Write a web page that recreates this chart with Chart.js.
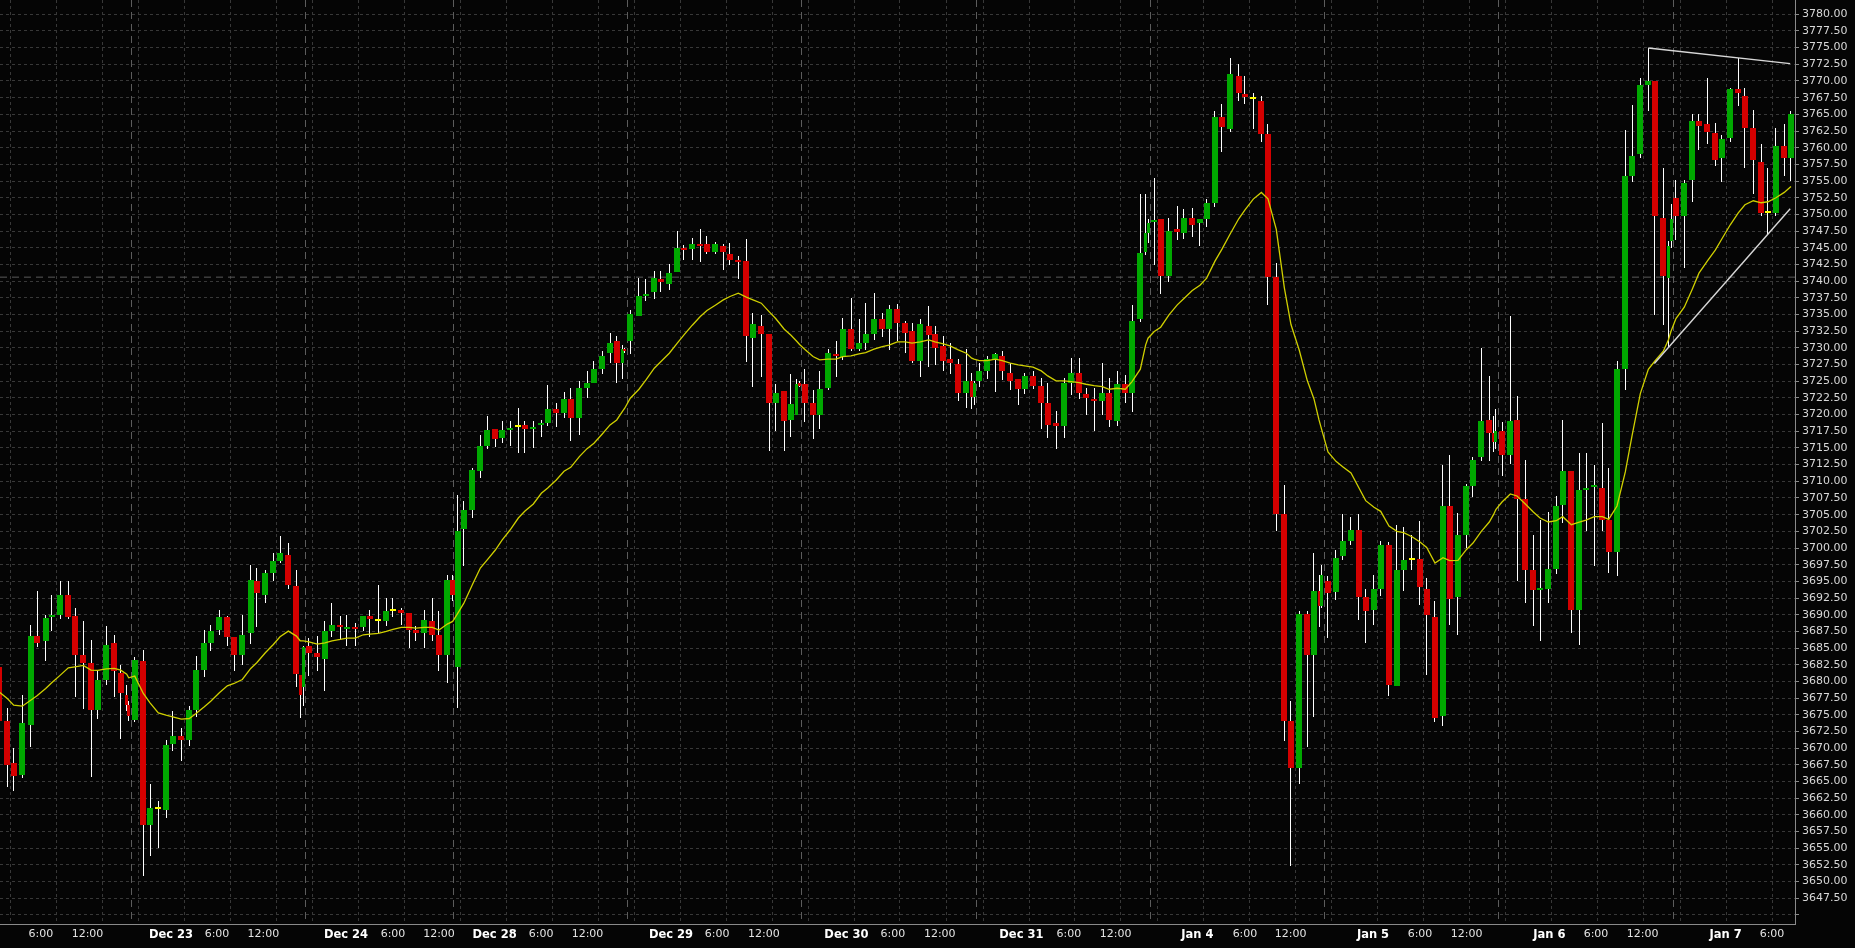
<!DOCTYPE html>
<html><head><meta charset="utf-8">
<script src="https://cdn.jsdelivr.net/npm/chart.js@4.4.1/dist/chart.umd.min.js"></script>
<style>
html,body{margin:0;padding:0;background:#050505;overflow:hidden;}
#wrap{width:1855px;height:948px;position:relative;background:#050505;}
</style></head>
<body><div id="wrap"><canvas id="c"></canvas></div>
<script>
// ---- hourly bars (time in session-hour units) ----
const hours = [
-0.10,1.00,1.84,2.97,4.07,4.90,6.04,6.83,7.96,9.01,
9.89,10.98,11.99,12.87,14.00,15.05,15.89,16.68,16.94,17.73,
18.86,19.74,20.83,21.84,22.72,23.85,24.90,25.78,26.87,27.71,
28.84,29.89,30.77,31.86,32.96,33.75,34.88,35.93,36.81,37.90,
38.96,39.45,39.87,40.61,41.70,42.71,43.63,44.72,45.60,46.69,
47.74,48.62,49.71,50.76,51.64,52.73,53.78,54.66,55.75,56.80,
57.68,58.77,59.48,60.14,60.93,62.06,63.11,63.99,65.08,65.96,
67.01,68.10,68.94,70.07,71.12,71.96,73.08,74.10,74.98,76.11,
77.12,78.03,79.12,80.14,81.02,81.75,82.07,82.80,83.94,84.86,
85.95,86.83,87.92,88.97,89.85,90.94,91.99,92.87,93.96,95.01,
95.89,96.98,98.03,98.91,100.00,101.05,101.89,103.02,103.90,104.65,
105.03,105.70,106.79,107.67,108.76,109.81,110.69,111.78,112.83,113.71,
114.80,115.89,116.77,117.86,118.91,119.79,120.88,121.98,122.81,123.90,
124.78,125.87,126.92,127.63,127.93,128.63,129.68,130.73,131.64,132.69,
133.74,134.59,135.68,136.77,137.61,138.70,139.79,140.67,141.72,142.64,
143.69,144.78,145.66,146.75,147.80,148.68,149.77,150.47,150.78,151.60,
152.44,153.53,154.62,155.50,156.59,157.60,158.48,159.57,160.49,161.58,
162.69,163.51,164.60,165.66,166.53,167.62,168.68,169.55,170.64,171.69,
172.57,173.23,173.62,174.41,175.46,176.34,177.43,178.48,179.36,180.45,
181.33,182.42,183.47,184.35,185.44,186.49,187.37,188.46,189.51,190.39,
191.48,192.57,193.45,194.54,195.59,196.14,196.47,197.26,198.35,199.23,
200.32,201.37,202.25,203.34,204.39,205.23,206.36,207.41,208.29,209.38,
210.43,211.27,212.36,213.45,214.33,215.42,216.47,217.31,218.44,219.14,
219.45,220.10,221.19,222.24,223.12,224.21,225.26,226.14,227.23,228.28,
229.16,230.25,231.30,232.18,233.23,234.32,235.20];

const opens = [
3682.1,3674.1,3667.8,3666.0,3673.5,3686.8,3686.1,3689.6,3690.0,3693.0,
3689.8,3683.9,3682.8,3675.7,3680.2,3685.8,3681.2,3678.0,3676.4,3674.2,
3683.1,3658.5,3660.9,3660.8,3670.6,3671.8,3671.3,3675.7,3681.7,3685.8,
3687.7,3689.6,3686.6,3684.0,3687.3,3695.1,3693.0,3696.3,3698.1,3699.0,
3694.3,3681.0,3679.1,3685.3,3684.2,3683.3,3687.6,3688.5,3687.8,3688.1,
3688.1,3689.8,3689.1,3689.1,3690.6,3690.7,3690.2,3687.7,3687.3,3689.1,
3687.0,3684.0,3695.2,3682.1,3702.8,3705.7,3711.6,3715.3,3717.9,3716.5,
3717.7,3718.2,3718.4,3717.8,3718.4,3718.8,3720.8,3720.3,3722.3,3719.5,
3724.0,3724.8,3726.85,3729.2,3731.0,3727.8,3729.8,3731.0,3734.8,3737.8,
3738.3,3740.3,3739.6,3741.3,3744.9,3744.8,3745.6,3745.6,3744.3,3745.3,
3744.1,3743.0,3743.0,3731.5,3733.3,3732.1,3721.7,3723.5,3719.2,3720.0,
3724.7,3724.6,3721.8,3719.9,3724.05,3729.1,3728.7,3732.8,3729.8,3730.8,
3732.1,3734.3,3732.8,3735.8,3733.7,3732.55,3728.1,3733.3,3732.1,3730.3,
3728.3,3727.6,3723.3,3725.05,3722.6,3725.05,3726.55,3728.3,3728.8,3726.3,
3725.35,3723.85,3725.85,3724.35,3721.8,3718.8,3718.35,3724.7,3726.3,3723.1,
3722.35,3722.1,3723.2,3719.1,3724.6,3723.3,3734.35,3744.3,3747.2,3748.8,
3749.3,3740.8,3747.8,3747.2,3749.5,3748.7,3749.35,3751.7,3764.65,3762.8,
3770.8,3768.0,3767.35,3767.0,3762.0,3740.6,3705.05,3674.1,3667.0,3690.05,
3684.0,3693.6,3691.3,3695.1,3693.4,3698.8,3701.1,3702.75,3692.6,3690.75,
3693.8,3700.4,3679.35,3696.75,3698.15,3698.3,3693.8,3689.6,3674.9,3706.25,
3692.6,3701.9,3709.25,3713.6,3719.2,3717.2,3715.85,3717.55,3714.0,3719.25,
3707.3,3696.7,3693.65,3693.8,3696.8,3706.5,3711.55,3690.65,3708.7,3709.1,
3709.0,3704.2,3699.4,3726.9,3755.8,3759.1,3769.35,3770.0,3749.5,3740.5,
3746.0,3752.5,3749.8,3755.1,3764.0,3763.5,3762.2,3758.4,3761.4,3768.8,
3767.8,3762.9,3757.8,3750.15,3750.25,3760.2,3758.5];

const highs = [
3683.0,3676.0,3670.0,3678.0,3688.5,3693.6,3690.0,3693.0,3695.1,3695.1,
3691.0,3689.0,3686.2,3681.7,3688.3,3687.0,3682.5,3679.4,3677.0,3683.6,
3684.7,3664.7,3662.1,3671.2,3675.6,3673.0,3676.3,3683.8,3687.7,3688.5,
3690.7,3689.8,3686.6,3689.9,3697.5,3697.0,3696.7,3699.3,3701.8,3700.7,
3696.7,3681.0,3685.3,3686.5,3686.8,3689.1,3691.7,3689.8,3689.9,3688.8,
3689.8,3690.7,3694.5,3692.5,3692.5,3691.0,3690.2,3688.3,3690.7,3692.5,
3690.6,3696.0,3696.0,3708.0,3707.1,3712.0,3717.0,3719.8,3717.9,3719.0,
3719.0,3721.0,3719.0,3719.0,3719.2,3724.5,3721.7,3723.4,3724.0,3725.0,
3726.5,3728.0,3729.6,3732.2,3731.8,3730.5,3730.0,3735.7,3740.4,3740.3,
3741.5,3741.5,3742.5,3747.5,3745.4,3746.5,3747.8,3746.8,3745.9,3745.5,
3745.7,3743.8,3746.3,3735.2,3735.0,3732.1,3724.6,3723.5,3726.1,3725.3,
3725.0,3726.8,3723.7,3726.5,3729.8,3731.0,3734.5,3737.5,3734.4,3736.7,
3738.2,3735.2,3736.5,3736.6,3734.05,3733.7,3734.3,3736.3,3733.3,3731.8,
3730.7,3728.3,3729.8,3726.3,3725.0,3727.8,3728.8,3729.2,3729.55,3727.8,
3725.35,3726.3,3726.55,3725.55,3724.7,3720.6,3725.55,3728.5,3728.45,3724.05,
3723.95,3727.7,3725.55,3726.55,3725.95,3736.5,3753.1,3753.1,3749.3,3755.5,
3749.3,3749.5,3751.3,3750.8,3751.0,3749.35,3752.35,3765.45,3766.6,3773.4,
3772.6,3770.8,3768.15,3767.75,3763.6,3742.75,3709.4,3677.1,3690.6,3690.6,
3699.2,3696.0,3697.5,3695.8,3699.75,3705.05,3704.65,3705.05,3693.8,3695.9,
3701.1,3700.9,3703.5,3703.1,3701.9,3704.1,3695.55,3692.05,3712.45,3714.0,
3705.3,3709.65,3713.6,3730.05,3725.8,3719.8,3720.8,3718.95,3734.8,3722.85,
3713.2,3702.0,3704.2,3705.4,3707.8,3719.25,3711.55,3714.3,3714.3,3712.5,
3718.8,3712.0,3728.0,3762.6,3766.4,3770.4,3774.95,3770.0,3757.0,3746.0,
3751.5,3755.1,3755.1,3765.0,3765.0,3770.4,3763.7,3761.9,3768.9,3773.45,
3768.9,3765.6,3760.6,3757.0,3763.0,3763.5,3765.5];

const lows = [
3673.0,3664.2,3663.6,3665.5,3670.2,3685.2,3683.0,3687.6,3689.4,3689.4,
3677.7,3675.9,3665.7,3674.4,3679.4,3677.7,3671.4,3675.5,3674.1,3674.0,
3650.9,3653.9,3655.0,3659.5,3669.6,3668.1,3670.4,3674.7,3680.7,3684.5,
3686.9,3685.3,3681.5,3682.4,3685.6,3688.2,3691.7,3695.0,3697.7,3693.9,
3679.2,3674.5,3676.3,3680.8,3681.5,3678.5,3686.7,3686.2,3685.3,3685.3,
3687.5,3686.7,3687.3,3688.3,3689.7,3688.5,3685.0,3686.0,3685.0,3686.1,
3681.5,3679.7,3692.1,3676.0,3697.3,3704.5,3710.5,3714.9,3715.2,3715.7,
3715.3,3714.2,3714.2,3715.0,3716.7,3718.3,3718.2,3719.5,3716.0,3716.9,
3722.5,3724.8,3726.1,3727.8,3724.7,3725.4,3729.2,3729.1,3734.8,3737.0,
3737.4,3738.3,3738.7,3741.3,3743.2,3743.2,3742.9,3744.0,3744.0,3741.7,
3742.4,3740.3,3727.9,3724.2,3725.7,3714.5,3717.5,3714.6,3716.7,3720.0,
3724.2,3718.9,3716.4,3717.9,3723.7,3725.7,3728.2,3729.6,3729.6,3729.7,
3731.2,3731.7,3729.7,3731.0,3729.2,3727.7,3725.7,3727.2,3727.4,3726.5,
3726.1,3722.0,3721.0,3720.9,3721.5,3724.2,3725.3,3723.45,3725.2,3723.7,
3721.4,3723.1,3723.8,3717.9,3716.5,3714.9,3716.5,3722.95,3722.35,3719.95,
3717.6,3719.95,3718.2,3718.35,3721.7,3720.45,3733.95,3743.9,3745.7,3742.4,
3738.1,3739.9,3746.2,3746.3,3746.65,3745.2,3748.15,3751.1,3759.4,3762.4,
3766.95,3766.6,3762.8,3760.85,3736.5,3702.5,3671.1,3652.35,3664.65,3670.2,
3674.75,3688.2,3691.0,3686.5,3692.2,3698.15,3700.4,3689.2,3685.7,3688.4,
3692.85,3677.8,3679.35,3693.55,3696.75,3691.4,3680.95,3673.95,3673.3,3688.4,
3686.9,3700.0,3707.7,3713.1,3713.1,3714.4,3714.8,3710.8,3712.6,3695.0,
3691.7,3688.25,3686.1,3691.7,3696.1,3703.7,3687.2,3685.5,3702.5,3697.3,
3702.5,3696.25,3695.75,3723.65,3754.9,3758.4,3765.45,3735.0,3733.5,3730.1,
3745.0,3746.2,3741.95,3751.9,3759.7,3760.5,3757.2,3754.9,3760.9,3766.2,
3756.9,3753.1,3749.8,3747.05,3749.7,3755.7,3755.0];

const closes = [
3674.1,3667.5,3665.8,3673.8,3686.8,3685.8,3689.5,3690.0,3693.0,3689.6,
3683.9,3682.8,3675.7,3680.2,3685.5,3681.6,3678.3,3676.4,3674.9,3683.2,
3658.5,3661.1,3660.9,3670.5,3671.8,3671.3,3675.7,3681.7,3685.8,3687.6,
3689.6,3686.6,3684.0,3687.0,3695.2,3693.3,3696.3,3698.1,3699.3,3694.5,
3681.1,3678.0,3685.1,3684.2,3683.6,3687.6,3688.5,3688.1,3688.1,3687.8,
3689.8,3689.3,3689.1,3690.6,3690.6,3690.3,3687.7,3687.3,3689.2,3687.0,
3684.0,3695.2,3692.9,3702.6,3705.7,3711.7,3715.3,3717.7,3716.3,3717.7,
3717.9,3718.2,3717.8,3718.0,3718.8,3720.8,3720.3,3722.3,3719.5,3724.0,
3724.8,3726.9,3728.85,3730.7,3727.8,3729.8,3729.5,3735.1,3737.8,3738.1,
3740.4,3739.8,3741.2,3744.9,3744.7,3745.6,3745.3,3744.3,3745.6,3744.3,
3743.1,3742.8,3731.8,3733.6,3732.1,3721.7,3723.3,3719.1,3721.6,3724.6,
3724.3,3721.8,3719.9,3723.85,3729.3,3728.85,3732.8,3729.8,3730.8,3732.1,
3734.3,3732.8,3735.8,3733.8,3732.3,3728.1,3733.6,3731.9,3730.0,3728.1,
3727.7,3723.3,3725.05,3722.7,3724.7,3726.55,3728.3,3729.1,3726.55,3725.05,
3723.85,3725.85,3724.35,3721.8,3718.45,3718.35,3724.7,3726.3,3723.2,3722.45,
3722.1,3723.2,3719.2,3724.6,3723.3,3734.05,3744.2,3747.2,3748.7,3748.95,
3740.8,3747.5,3747.3,3749.5,3748.35,3749.35,3751.7,3764.65,3763.1,3771.0,
3768.15,3767.6,3767.35,3762.0,3740.6,3705.05,3674.1,3667.0,3690.05,3684.0,
3693.55,3691.3,3696.0,3693.3,3698.55,3701.1,3702.75,3692.6,3690.6,3693.8,
3700.4,3679.5,3696.75,3698.15,3698.15,3694.2,3690.0,3674.6,3706.25,3692.35,
3701.9,3709.25,3713.25,3719.0,3717.2,3715.85,3717.6,3714.0,3719.05,3707.3,
3696.7,3693.65,3693.8,3696.8,3706.3,3711.55,3690.65,3708.7,3708.85,3709.3,
3704.2,3699.4,3726.9,3755.8,3758.8,3769.35,3770.0,3749.8,3740.8,3745.25,
3749.35,3749.8,3754.75,3764.0,3763.3,3762.3,3758.1,3761.25,3768.8,3768.15,
3762.9,3758.1,3750.25,3750.15,3760.2,3758.5,3765.0];

// moving average
const maValues = [
3678.45,3677.45,3676.45,3676.3,3677.2,3677.85,3678.95,3679.8,3680.95,3682.05,
3682.2,3682.4,3681.7,3681.65,3681.9,3681.95,3681.7,3681.1,3680.55,3680.8,
3678.2,3676.8,3675.3,3674.95,3674.7,3674.35,3674.45,3675.2,3676.2,3677.05,
3678.3,3679.35,3679.7,3680.3,3681.95,3682.8,3684.3,3685.55,3686.7,3687.55,
3686.8,3686.1,3686.1,3685.95,3685.6,3685.8,3686.1,3686.3,3686.5,3686.5,
3687.0,3687.1,3687.2,3687.5,3687.8,3688.1,3688.1,3688.0,3688.1,3688.1,
3687.7,3688.6,3689.0,3690.2,3691.7,3694.5,3697.0,3698.2,3699.7,3701.2,
3702.7,3704.5,3705.5,3706.6,3708.2,3709.0,3710.2,3711.5,3712.1,3713.7,
3714.9,3715.7,3717.1,3718.45,3719.2,3720.45,3720.95,3722.45,3723.8,3725.2,
3726.95,3727.95,3729.2,3730.7,3731.95,3733.4,3734.7,3735.6,3736.4,3737.2,
3737.7,3738.2,3737.6,3737.2,3736.7,3735.4,3734.4,3732.8,3731.9,3731.0,
3730.5,3729.8,3728.7,3728.2,3728.3,3728.3,3728.7,3728.8,3729.1,3729.3,
3729.8,3730.2,3730.4,3730.9,3730.9,3730.7,3730.9,3731.2,3730.9,3730.6,
3730.3,3729.7,3729.2,3728.45,3728.3,3728.1,3728.1,3728.3,3728.1,3727.7,
3727.45,3727.3,3727.1,3726.55,3725.8,3725.05,3725.05,3724.95,3724.8,3724.55,
3724.35,3724.2,3723.8,3723.95,3723.8,3724.95,3726.8,3730.45,3731.45,3732.45,
3733.1,3734.95,3736.45,3737.4,3738.6,3739.4,3740.45,3743.0,3744.8,3747.1,
3749.35,3750.7,3752.3,3753.3,3752.35,3747.75,3739.0,3733.5,3729.65,3725.1,
3722.35,3719.2,3717.6,3714.4,3713.0,3712.2,3711.25,3709.0,3707.1,3706.1,
3705.5,3703.3,3702.5,3702.3,3701.7,3700.9,3700.1,3697.75,3698.55,3698.1,
3698.15,3699.75,3700.75,3702.5,3703.9,3705.0,3705.8,3706.9,3708.1,3707.8,
3706.6,3705.4,3704.5,3703.9,3704.1,3704.7,3703.5,3703.9,3704.2,3704.7,
3704.7,3704.3,3706.3,3711.4,3716.8,3723.15,3726.8,3728.0,3729.5,3731.3,
3732.5,3734.4,3736.1,3738.8,3741.2,3743.0,3744.65,3746.35,3748.45,3750.25,
3751.45,3752.05,3751.75,3751.9,3752.5,3753.3,3754.2];

// time axis labels
const xTickHours = [5.42,11.53,22.49,28.53,34.63,45.47,51.64,57.68,64.98,71.08,77.18,88.15,94.19,100.33,111.18,117.28,123.43,134.15,140.40,146.52,157.25,163.51,169.50,180.32,186.49,192.62,203.47,209.60,215.73,226.63,232.71];
const xTickLabels = ['6:00','12:00','Dec 23','6:00','12:00','Dec 24','6:00','12:00','Dec 28','6:00','12:00','Dec 29','6:00','12:00','Dec 30','6:00','12:00','Dec 31','6:00','12:00','Jan 4','6:00','12:00','Jan 5','6:00','12:00','Jan 6','6:00','12:00','Jan 7','6:00'];
// dotted 6-hour grid and dashed session boundaries
const gridHours = [1.42,7.49,13.53,18.21,24.25,30.35,36.39,41.07,47.11,53.15,60.44,66.52,72.61,78.60,83.33,89.42,95.46,101.50,106.17,112.30,118.21,124.34,129.15,135.19,141.19,147.19,151.99,158.04,164.08,170.12,174.90,180.88,186.93,192.97,197.78,203.79,209.77,215.81,220.72,226.76,232.80];
const sessionHours = [17.31,40.13,59.55,82.41,105.31,128.29,151.13,173.95,196.77,219.75];
// drawn lines
const priceLevel = 3740.6;
const upperLineHours = [216.47, 235.1];
const upperLinePrices = [3774.95, 3772.6];
const lowerLineHours = [217.26, 235.1];
const lowerLinePrices = [3727.66, 3750.85];

const X_MIN = 0.04, X_MAX = 235.73, Y_MIN = 3643.65, Y_MAX = 3782.14, Y_STEP = 2.5;

const UP = '#00a800', DOWN = '#d40000', FLAT = '#ffff00';
const bodyColor = i => closes[i] > opens[i] ? UP : (closes[i] < opens[i] ? DOWN : FLAT);
function isNarrow(i) {
  const l = i > 0 ? hours[i] - hours[i-1] : 9;
  const r = i < hours.length - 1 ? hours[i+1] - hours[i] : 9;
  return Math.min(l, r) < 0.45;
}
const idxNormal = [], idxNarrow = [];
hours.forEach((t, i) => (isNarrow(i) ? idxNarrow : idxNormal).push(i));
const wickData = ids => ids.map(i => ({x: hours[i], y: [lows[i], highs[i]], i}));
const bodyData = ids => ids.map(i => ({x: hours[i], y: [opens[i], closes[i]], i}));

const barCommon = {type: 'bar', stack: 'k', borderWidth: 0, inflateAmount: 0, grouped: true};
const datasets = [
  Object.assign({}, barCommon, {data: wickData(idxNormal), backgroundColor: '#ffffff', barThickness: 1, order: 5}),
  Object.assign({}, barCommon, {data: wickData(idxNarrow), backgroundColor: '#ffffff', barThickness: 1, order: 5}),
  Object.assign({}, barCommon, {data: bodyData(idxNormal), backgroundColor: c => bodyColor(c.raw.i), barThickness: 6, minBarLength: 2, order: 4}),
  Object.assign({}, barCommon, {data: bodyData(idxNarrow), backgroundColor: c => bodyColor(c.raw.i), barThickness: 3, minBarLength: 2, order: 4}),
  {type: 'line', data: hours.map((t, i) => ({x: t, y: maValues[i]})), borderColor: '#d0d000', borderWidth: 1.3, pointRadius: 0, tension: 0, order: 2},
  {type: 'line', data: [{x: X_MIN, y: priceLevel}, {x: X_MAX, y: priceLevel}], borderColor: '#5a5a5a', borderWidth: 1, borderDash: [7, 5], pointRadius: 0, order: 6},
  {type: 'line', data: upperLineHours.map((t, i) => ({x: t, y: upperLinePrices[i]})), borderColor: '#d8d8d8', borderWidth: 1.4, pointRadius: 0, order: 1},
  {type: 'line', data: lowerLineHours.map((t, i) => ({x: t, y: lowerLinePrices[i]})), borderColor: '#d8d8d8', borderWidth: 1.4, pointRadius: 0, order: 1}
];

const crispBars = {
  id: 'crispBars',
  beforeDatasetsDraw(chart) {
    chart.data.datasets.forEach((ds, di) => {
      if (ds.type !== 'bar') return;
      const w = ds.barThickness;
      chart.getDatasetMeta(di).data.forEach(el => {
        el.x = Math.round(el.x - w / 2) + w / 2;
        const y = Math.round(el.y); let b = Math.round(el.base);
        if (y === b) b = y + 1;
        el.y = y; el.base = b;
      });
    });
  }
};

const xTicks = [];
xTickHours.forEach((v, i) => xTicks.push({value: v, text: xTickLabels[i], isDate: /^[A-Z]/.test(xTickLabels[i]), grid: false}));
gridHours.forEach(v => xTicks.push({value: v, text: '', isDate: false, grid: true}));
xTicks.sort((a, b) => a.value - b.value);

new Chart(document.getElementById('c'), {
  type: 'bar',
  data: {datasets},
  options: {
    responsive: true, maintainAspectRatio: false, animation: false, devicePixelRatio: 1, events: [],
    layout: {padding: 0},
    plugins: {legend: {display: false}, tooltip: {enabled: false}, title: {display: false}},
    scales: {
      x: {
        type: 'linear', position: 'bottom', min: X_MIN, max: X_MAX, offset: false, stacked: true,
        grid: {offset: false, drawTicks: false, lineWidth: 1, color: c => (c.tick && c.tick.grid) ? '#383838' : 'rgba(0,0,0,0)'},
        border: {display: true, color: '#8a8a8a', width: 1, dash: [3, 3]},
        ticks: {
          autoSkip: false, maxRotation: 0, minRotation: 0, padding: 4,
          callback: (v, i, ticks) => ticks[i].text,
          color: c => (c.tick && c.tick.isDate) ? '#ffffff' : '#e4e4e4',
          font: c => (c.tick && c.tick.isDate) ? {family: 'DejaVu Sans', size: 11.5, weight: 'bold'} : {family: 'DejaVu Sans', size: 11, weight: 'normal'}
        },
        afterBuildTicks: s => { s.ticks = xTicks.map(t => Object.assign({}, t)); },
        afterFit: s => { s.height = 24; s.paddingLeft = 0; s.paddingRight = 0; s.paddingTop = 0; s.paddingBottom = 0; }
      },
      xs: {
        type: 'linear', position: 'top', min: X_MIN, max: X_MAX, offset: false, stacked: true,
        grid: {offset: false, drawTicks: false, lineWidth: 1, color: '#5c5c5c'},
        border: {display: false, dash: [7, 5]},
        ticks: {display: false},
        afterBuildTicks: s => { s.ticks = sessionHours.map(v => ({value: v})); },
        afterFit: s => { s.height = 0; s.paddingLeft = 0; s.paddingRight = 0; s.paddingTop = 0; s.paddingBottom = 0; }
      },
      y: {
        type: 'linear', position: 'right', min: Y_MIN, max: Y_MAX, stacked: false, beginAtZero: false,
        grid: {drawTicks: true, tickLength: 4, tickColor: '#8a8a8a', tickWidth: 1, tickBorderDash: [], color: '#383838', lineWidth: 1},
        border: {display: true, color: '#8a8a8a', width: 1, dash: [3, 3]},
        ticks: {
          stepSize: Y_STEP, includeBounds: false, maxTicksLimit: 200, autoSkip: false, padding: 3,
          color: '#d8d8d8', font: {family: 'DejaVu Sans', size: 11},
          callback: v => v < 3647 ? '' : Number(v).toFixed(2)
        },
        afterFit: s => { s.width = 60; s.paddingTop = 0; s.paddingBottom = 0; s.paddingLeft = 0; s.paddingRight = 0; }
      }
    }
  },
  plugins: [crispBars]
});
</script>
</body></html>
